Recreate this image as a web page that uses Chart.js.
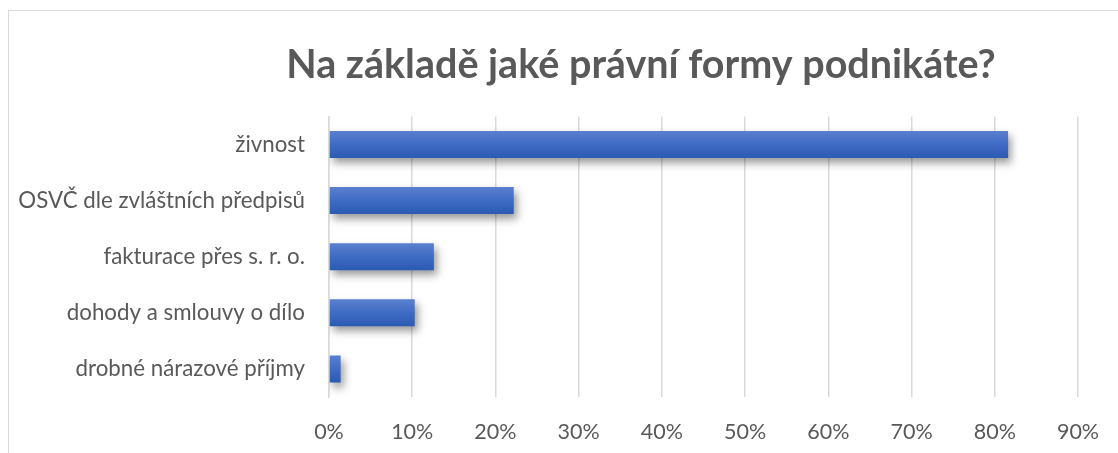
<!DOCTYPE html>
<html lang="cs">
<head>
<meta charset="utf-8">
<title>Na základě jaké právní formy podnikáte?</title>
<script src="https://cdn.jsdelivr.net/npm/chart.js@4/dist/chart.umd.min.js"></script>
<style>
  html, body { margin: 0; padding: 0; background: #fff; overflow: hidden; width: 1118px; height: 453px; }
  #frame { position: absolute; left: 8px; top: 10px; width: 1264px; height: 470px; border: 1px solid #d9d9d9; background: #fff; }
  #chart { display: block; }
</style>
</head>
<body>
<div id="frame"><canvas id="chart" width="1264" height="470"></canvas></div>
<script>
// Survey answers: legal form of self-employment (share of respondents, %)
const chartTitle = 'Na základě jaké právní formy podnikáte?';
const categories = [
  'živnost',
  'OSVČ dle zvláštních předpisů',
  'fakturace přes s. r. o.',
  'dohody a smlouvy o dílo',
  'drobné nárazové příjmy'
];
const shares = [81.6, 22.2, 12.6, 10.3, 1.4];
const tickValues = [0, 10, 20, 30, 40, 50, 60, 70, 80, 90];

const FONT = 'Lato, "Open Sans", "Noto Sans", sans-serif';
const TEXT = '#595959';
const GRID = '#d9d9d9';
const BAR_PCT = 0.48;

// vertical gradient for each bar, lighter on top, deeper at the bottom
function barFill(c) {
  const chart = c.chart;
  const y = chart.scales && chart.scales.y;
  if (!y || c.type !== 'data' || !isFinite(y.getPixelForValue(0))) return '#4472c4';
  const center = y.getPixelForValue(c.dataIndex);
  const half = (y.height / categories.length) * BAR_PCT / 2;
  const g = chart.ctx.createLinearGradient(0, center - half, 0, center + half);
  g.addColorStop(0, '#5a80cf');
  g.addColorStop(0.55, '#3d69c2');
  g.addColorStop(1, '#2b5ab3');
  return g;
}

// soft drop shadow under the bars
const barShadow = {
  id: 'barShadow',
  beforeDatasetsDraw(chart) {
    const ctx = chart.ctx;
    ctx.save();
    ctx.shadowColor = 'rgba(0,0,0,0.4)';
    ctx.shadowBlur = 8;
    ctx.shadowOffsetX = 3;
    ctx.shadowOffsetY = 5;
  },
  afterDatasetsDraw(chart) {
    chart.ctx.restore();
  }
};

new Chart(document.getElementById('chart'), {
  type: 'bar',
  data: {
    labels: categories,
    datasets: [{
      data: shares,
      backgroundColor: barFill,
      borderWidth: 0,
      categoryPercentage: 1,
      barPercentage: BAR_PCT
    }]
  },
  plugins: [barShadow],
  options: {
    indexAxis: 'y',
    responsive: false,
    animation: false,
    layout: { padding: { left: 0, right: 0, top: 0, bottom: 14 } },
    plugins: {
      legend: { display: false },
      tooltip: { enabled: false },
      title: {
        display: true,
        text: chartTitle,
        color: TEXT,
        font: { family: FONT, size: 39.5, weight: 'bold', lineHeight: 1.2 },
        padding: { top: 31, bottom: 27 }
      }
    },
    scales: {
      x: {
        min: 0,
        max: 90,
        afterBuildTicks(scale) { scale.ticks = tickValues.map(v => ({ value: v })); },
        afterFit(scale) { scale.height = 70; },
        grid: { color: GRID, lineWidth: 1.5, drawTicks: false },
        border: { display: false },
        ticks: {
          color: TEXT,
          font: { family: FONT, size: 21.5 },
          padding: 22,
          maxRotation: 0,
          callback: v => v + '%'
        }
      },
      y: {
        afterFit(scale) { scale.width = 320; },
        grid: { display: false, drawTicks: false },
        border: { display: true, color: GRID, width: 1.5 },
        ticks: {
          color: TEXT,
          font: { family: FONT, size: 22.3 },
          padding: 24
        }
      },
      // empty right-hand gutter that keeps the plot narrower than the title band
      gutter: {
        type: 'linear',
        axis: 'y',
        position: 'right',
        afterFit(scale) { scale.width = 195; },
        grid: { display: false, drawTicks: false },
        border: { display: false },
        ticks: { display: false }
      }
    }
  }
});
</script>
</body>
</html>
